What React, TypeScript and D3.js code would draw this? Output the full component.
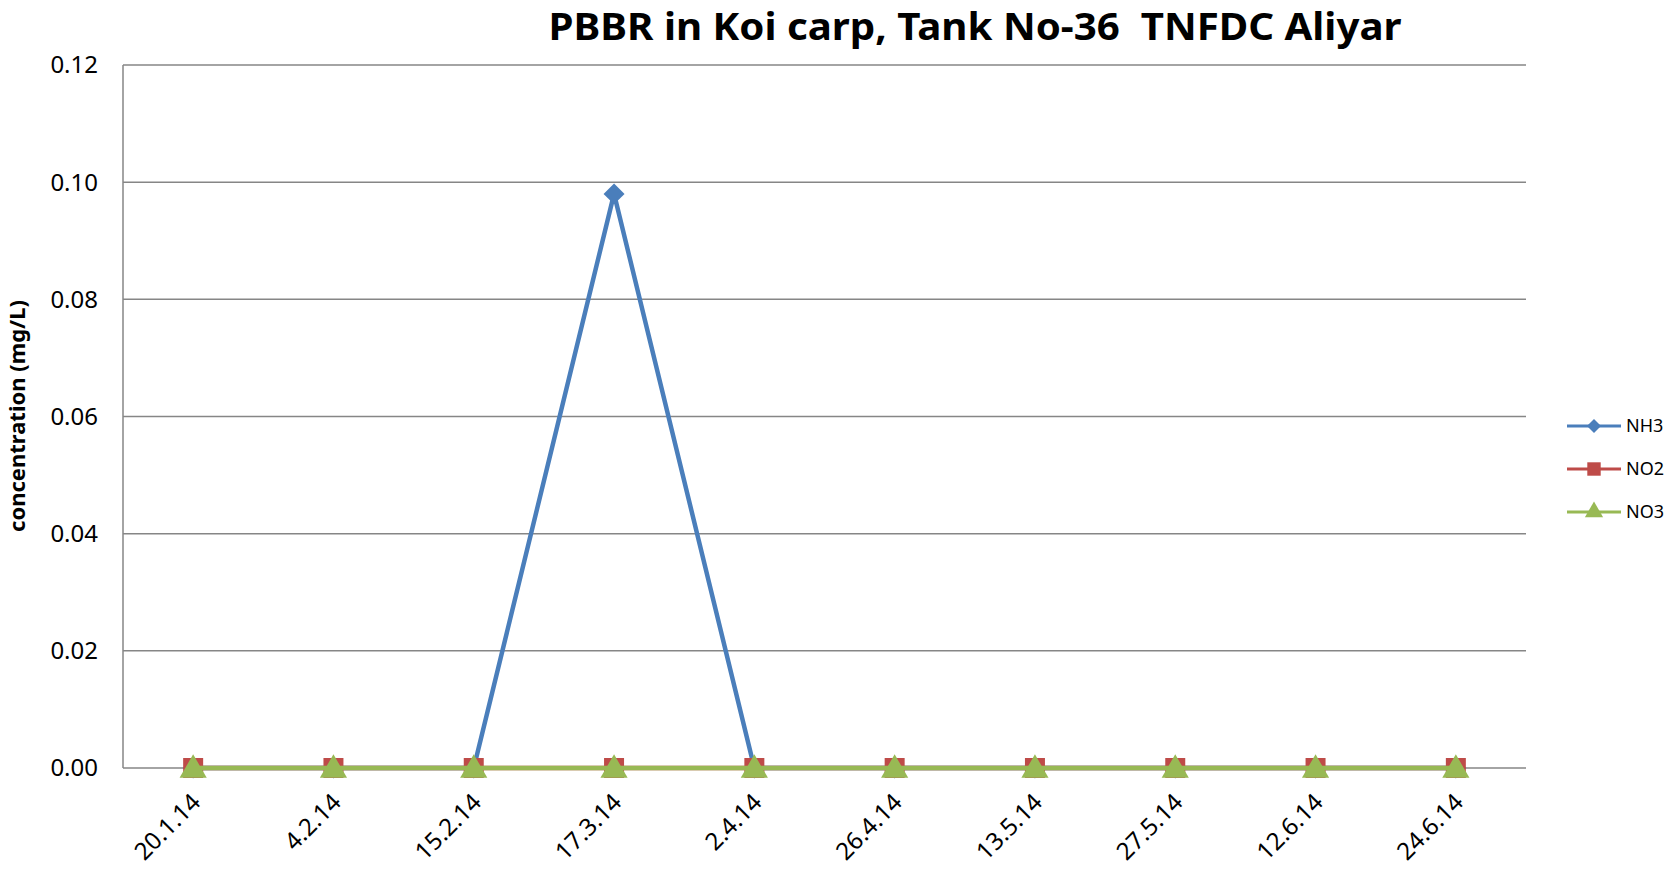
import React, { useEffect, useRef } from 'react';
import * as d3 from 'd3';

const dates = ['20.1.14', '4.2.14', '15.2.14', '17.3.14', '2.4.14', '26.4.14', '13.5.14', '27.5.14', '12.6.14', '24.6.14'];
const nh3 = [0, 0, 0, 0.098, 0, 0, 0, 0, 0, 0];
const no2 = [0, 0, 0, 0, 0, 0, 0, 0, 0, 0];
const no3 = [0, 0, 0, 0, 0, 0, 0, 0, 0, 0];
const yTicks = [0, 0.02, 0.04, 0.06, 0.08, 0.1, 0.12];

const width = 1665;
const height = 869;
const font = "'Noto Sans', 'Open Sans', sans-serif";

const series = [
  { name: 'NH3', values: nh3, color: '#4A7EBB', symbol: d3.symbolSquare, size: 220, rot: 45 },
  { name: 'NO2', values: no2, color: '#BE4B48', symbol: d3.symbolSquare, size: 400, rot: 0 },
  { name: 'NO3', values: no3, color: '#98B954', symbol: d3.symbolTriangle, size: 320, rot: 0 },
];

const App = () => {
  const ref = useRef<SVGSVGElement>(null);

  useEffect(() => {
    document.body.style.margin = '0';
    const svg = d3.select(ref.current);
    svg.selectAll('*').remove();

    const m = { left: 123, right: 1526, top: 65, bottom: 768 };
    const x = d3.scaleBand().domain(dates).range([m.left, m.right]);
    const y = d3.scaleLinear().domain([0, 0.12]).range([m.bottom, m.top]);
    const cx = (d: string) => (x(d) as number) + x.bandwidth() / 2;

    // gridlines
    svg.append('g')
      .selectAll('line')
      .data(yTicks.slice(1))
      .enter()
      .append('line')
      .attr('x1', m.left).attr('x2', m.right)
      .attr('y1', d => y(d)).attr('y2', d => y(d))
      .attr('stroke', '#868686').attr('stroke-width', 1.5);

    // axes
    svg.append('line').attr('x1', m.left).attr('x2', m.left).attr('y1', m.top).attr('y2', m.bottom)
      .attr('stroke', '#868686').attr('stroke-width', 1.5);
    svg.append('line').attr('x1', m.left).attr('x2', m.right).attr('y1', m.bottom).attr('y2', m.bottom)
      .attr('stroke', '#868686').attr('stroke-width', 1.5);

    // y tick labels
    svg.append('g')
      .selectAll('text')
      .data(yTicks)
      .enter()
      .append('text')
      .attr('x', 98)
      .attr('y', d => y(d))
      .attr('dy', '0.35em')
      .attr('text-anchor', 'end')
      .style('font-family', font)
      .style('font-size', '24px')
      .text(d => d.toFixed(2));

    // x tick labels
    svg.append('g')
      .selectAll('text')
      .data(dates)
      .enter()
      .append('text')
      .attr('transform', d => `translate(${cx(d) - 3},${m.bottom + 24}) rotate(-45)`)
      .attr('text-anchor', 'end')
      .attr('dy', '0.7em')
      .style('font-family', font)
      .style('font-size', '24px')
      .text(d => d);

    // lines + markers, series drawn in order so NO3 ends on top
    const line = d3.line<number>().x((_, i) => cx(dates[i])).y(d => y(d));
    series.forEach(s => {
      svg.append('path')
        .datum(s.values)
        .attr('d', line)
        .attr('fill', 'none')
        .attr('stroke', s.color)
        .attr('stroke-width', 4.5);
      svg.append('g')
        .selectAll('path')
        .data(s.values)
        .enter()
        .append('path')
        .attr('d', d3.symbol().type(s.symbol).size(s.size))
        .attr('transform', (d, i) => `translate(${cx(dates[i])},${y(d) + (s.symbol === d3.symbolTriangle ? 2 : 0)}) rotate(${s.rot})`)
        .attr('fill', s.color);
    });

    // title
    svg.append('text')
      .attr('x', 975)
      .attr('y', 40)
      .attr('text-anchor', 'middle')
      .attr('textLength', 853)
      .attr('lengthAdjust', 'spacingAndGlyphs')
      .style('white-space', 'pre')
      .style('font-family', font)
      .style('font-weight', 'bold')
      .style('font-size', '38px')
      .text('PBBR in Koi carp, Tank No-36  TNFDC Aliyar');

    // y axis title
    svg.append('text')
      .attr('transform', 'translate(25,416) rotate(-90)')
      .attr('text-anchor', 'middle')
      .style('font-family', font)
      .style('font-weight', 'bold')
      .style('font-size', '22px')
      .text('concentration (mg/L)');

    // legend
    const legend = svg.append('g')
      .selectAll('g')
      .data(series)
      .enter()
      .append('g')
      .attr('transform', (d, i) => `translate(1567,${426 + i * 43})`);
    legend.append('line')
      .attr('x1', 0).attr('x2', 54)
      .attr('stroke', d => d.color).attr('stroke-width', 3);
    legend.append('path')
      .attr('d', d => d3.symbol().type(d.symbol).size(d.size * 0.45)())
      .attr('transform', d => `translate(27,0) rotate(${d.rot})`)
      .attr('fill', d => d.color);
    legend.append('text')
      .attr('x', 59)
      .attr('dy', '0.35em')
      .style('font-family', font)
      .style('font-size', '18px')
      .text(d => d.name);
  }, []);

  return (
    <svg ref={ref} width={width} height={height} style={{ display: 'block', background: '#fff' }}></svg>
  );
};

export default App;
